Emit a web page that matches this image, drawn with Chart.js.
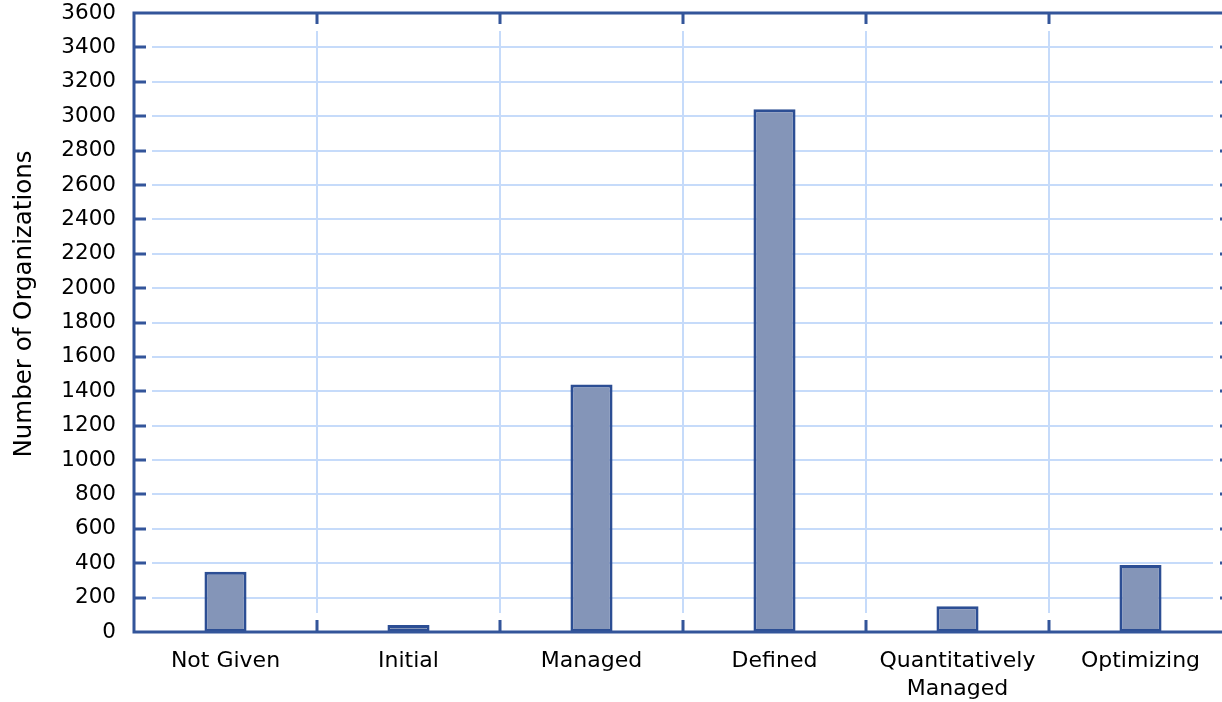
<!DOCTYPE html>
<html>
<head>
<meta charset="utf-8">
<script src="https://cdn.jsdelivr.net/npm/chart.js@4/dist/chart.umd.min.js"></script>
<style>
  html, body { margin: 0; padding: 0; background: #fff; overflow: hidden; }
  #wrap { position: relative; width: 1240px; height: 702px; }
</style>
</head>
<body>
<div id="wrap"><canvas id="c"></canvas></div>
<script>
const categories = ["Not Given", "Initial", "Managed", "Defined", ["Quantitatively", "Managed"], "Optimizing"];
const organizations = [350, 40, 1440, 3040, 150, 390];
const yMin = 0, yMax = 3600, yStep = 200;
const yTitle = "Number of Organizations";

const AXIS = '#33559a';
const GRID = '#c6dbfa';
const TEXT = '#000';
const FONT = '"DejaVu Sans", Verdana, sans-serif';

const framePlugin = {
  id: 'frame',
  beforeDatasetsDraw(chart) {
    const { ctx, chartArea: a, scales: { x, y } } = chart;
    ctx.save();
    ctx.strokeStyle = GRID;
    ctx.lineWidth = 2;
    ctx.beginPath();
    y.ticks.forEach(t => {
      if (t.value <= yMin || t.value >= yMax) return;
      const py = Math.round(y.getPixelForValue(t.value));
      ctx.moveTo(a.left + 18, py); ctx.lineTo(a.right - 19, py);
    });
    for (let i = 0; i < categories.length - 1; i++) {
      const px = Math.round((x.getPixelForTick(i) + x.getPixelForTick(i + 1)) / 2);
      ctx.moveTo(px, a.top + 18); ctx.lineTo(px, a.bottom - 19);
    }
    ctx.stroke();
    ctx.restore();
  },
  afterDatasetsDraw(chart) {
    const { ctx, chartArea: a, scales: { x, y } } = chart;
    ctx.save();
    ctx.strokeStyle = AXIS;
    ctx.lineWidth = 3;
    ctx.beginPath();
    y.ticks.forEach(t => {
      if (t.value <= yMin || t.value >= yMax) return;
      const py = Math.round(y.getPixelForValue(t.value));
      ctx.moveTo(a.left, py); ctx.lineTo(a.left + 12, py);
      ctx.moveTo(a.right - 12, py); ctx.lineTo(a.right, py);
    });
    for (let i = 0; i < categories.length - 1; i++) {
      const px = Math.round((x.getPixelForTick(i) + x.getPixelForTick(i + 1)) / 2);
      ctx.moveTo(px, a.top); ctx.lineTo(px, a.top + 11);
      ctx.moveTo(px, a.bottom - 12); ctx.lineTo(px, a.bottom);
    }
    ctx.stroke();
    ctx.beginPath();
    ctx.rect(a.left, a.top, a.right - a.left, a.bottom - a.top);
    ctx.stroke();
    // y axis title
    ctx.fillStyle = TEXT;
    ctx.font = '24.5px ' + FONT;
    ctx.textAlign = 'center';
    ctx.textBaseline = 'middle';
    ctx.translate(25, 304);
    ctx.rotate(-Math.PI / 2);
    ctx.fillText(yTitle, 0, 0);
    ctx.restore();
  }
};

new Chart(document.getElementById('c'), {
  type: 'bar',
  data: {
    labels: categories,
    datasets: [{
      data: organizations,
      backgroundColor: '#8495b8',
      borderColor: '#2c4e94',
      borderWidth: 3,
      borderSkipped: false,
      barPercentage: 0.23,
      categoryPercentage: 1.0
    }]
  },
  options: {
    responsive: true,
    maintainAspectRatio: false,
    animation: false,
    devicePixelRatio: 1,
    layout: { padding: { top: 13, right: 8, left: 0, bottom: 0 } },
    plugins: { legend: { display: false }, tooltip: { enabled: false } },
    scales: {
      x: {
        offset: true,
        grid: { display: false, drawTicks: false },
        border: { display: false },
        ticks: { color: TEXT, font: { family: FONT, size: 22, lineHeight: 1.25 }, padding: 16, maxRotation: 0, autoSkip: false },
        afterFit(s) { s.height = 70; s.paddingLeft = 0; s.paddingRight = 0; }
      },
      y: {
        min: yMin, max: yMax,
        grid: { display: false, drawTicks: false },
        border: { display: false },
        ticks: { stepSize: yStep, color: TEXT, font: { family: FONT, size: 21.5 }, padding: 18,
                 callback: v => String(v) },
        afterFit(s) { s.width = 134; s.paddingTop = 0; s.paddingBottom = 0; }
      }
    }
  },
  plugins: [framePlugin]
});
</script>
</body>
</html>
